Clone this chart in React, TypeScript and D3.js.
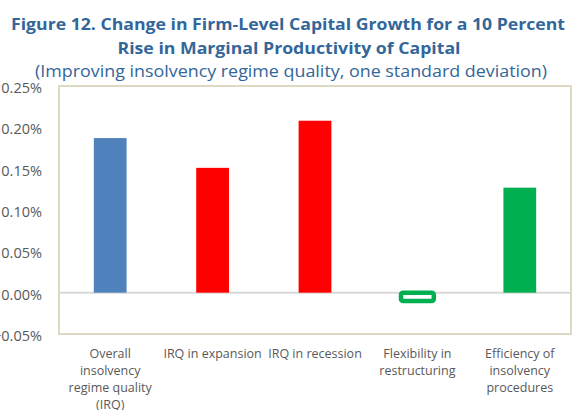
import React, { useEffect, useRef } from "react";
import * as d3 from "d3";

// Figure 12 data (percent)
const categories = [
  ["Overall", "insolvency", "regime quality", "(IRQ)"],
  ["IRQ in expansion"],
  ["IRQ in recession"],
  ["Flexibility in", "restructuring"],
  ["Efficiency of", "insolvency", "procedures"],
];
const values = [0.187, 0.151, 0.208, -0.01, 0.127];
const barColors = ["#4f81bd", "#ff0000", "#ff0000", "#00b050", "#00b050"];
const yTicks = [-0.05, 0, 0.05, 0.1, 0.15, 0.2, 0.25];

const titleLines = [
  "Figure 12. Change in Firm-Level Capital Growth for a 10 Percent",
  "Rise in Marginal Productivity of Capital",
];
const subtitle = "(Improving insolvency regime quality, one standard deviation)";

function App() {
  const ref = useRef<SVGSVGElement>(null);

  useEffect(() => {
    const svg = d3.select(ref.current);
    svg.selectAll("*").remove();

    const font = "'Open Sans', 'Noto Sans', sans-serif";
    const titleColor = "#336699";
    const labelColor = "#595959";

    // titles
    svg.append("text")
      .attr("x", 288).attr("y", 30)
      .attr("text-anchor", "middle")
      .attr("font-family", font).attr("font-weight", "bold")
      .attr("font-size", 16.5).attr("fill", titleColor)
      .attr("textLength", 554).attr("lengthAdjust", "spacingAndGlyphs")
      .text(titleLines[0]);
    svg.append("text")
      .attr("x", 289).attr("y", 54)
      .attr("text-anchor", "middle")
      .attr("font-family", font).attr("font-weight", "bold")
      .attr("font-size", 16.5).attr("fill", titleColor)
      .attr("textLength", 343).attr("lengthAdjust", "spacingAndGlyphs")
      .text(titleLines[1]);
    svg.append("text")
      .attr("x", 291).attr("y", 77)
      .attr("text-anchor", "middle")
      .attr("font-family", font)
      .attr("font-size", 17).attr("fill", titleColor)
      .attr("textLength", 512).attr("lengthAdjust", "spacingAndGlyphs")
      .text(subtitle);

    // plot area
    const left = 59, right = 571, top = 86, bottom = 334;

    const x = d3.scaleBand<number>()
      .domain(d3.range(values.length))
      .range([left, right])
      .paddingInner(0.68)
      .paddingOuter(0.34);

    const y = d3.scaleLinear()
      .domain([-0.05, 0.25])
      .range([bottom, top]);

    // y tick labels (the minus of the last one runs off the left edge, as in the original)
    svg.append("g")
      .selectAll("text")
      .data(yTicks)
      .join("text")
        .attr("x", 42)
        .attr("y", d => y(d) + 2)
        .attr("dy", "0.35em")
        .attr("text-anchor", "end")
        .attr("font-family", font)
        .attr("font-size", 14.5)
        .attr("fill", labelColor)
        .text(d => d3.format(".2f")(d) + "%");

    // zero line
    svg.append("line")
      .attr("x1", left).attr("x2", right)
      .attr("y1", y(0)).attr("y2", y(0))
      .attr("stroke", "#d9d9d9").attr("stroke-width", 2);

    // bars
    svg.append("g")
      .selectAll("rect")
      .data(values)
      .join("rect")
        .attr("x", (d, i) => x(i)!)
        .attr("width", x.bandwidth())
        .attr("y", d => y(Math.max(0, d)))
        .attr("height", d => Math.abs(y(d) - y(0)))
        .attr("rx", d => d < 0 ? 2 : 0)
        .attr("fill", (d, i) => d < 0 ? "#ffffff" : barColors[i])
        .attr("stroke", (d, i) => d < 0 ? barColors[i] : "none")
        .attr("stroke-width", 4.5);

    // frame around the plot
    svg.append("rect")
      .attr("x", left).attr("y", top)
      .attr("width", right - left).attr("height", bottom - top)
      .attr("fill", "none")
      .attr("stroke", "#ddd9c3").attr("stroke-width", 2);

    // category labels, wrapped like the original
    const cat = svg.append("g")
      .selectAll("text")
      .data(categories)
      .join("text")
        .attr("x", (d, i) => x(i)! + x.bandwidth() / 2)
        .attr("y", 358)
        .attr("text-anchor", "middle")
        .attr("font-family", font)
        .attr("font-size", 12.5)
        .attr("fill", labelColor);
    cat.selectAll("tspan")
      .data(d => d)
      .join("tspan")
        .attr("x", function () { return (this.parentNode as SVGTextElement).getAttribute("x"); })
        .attr("dy", (d, i) => i === 0 ? 0 : 17)
        .text(d => d);
  }, []);

  return (
    <div>
      <style>{"body{margin:0}"}</style>
      <svg ref={ref} width={572} height={410} style={{ display: "block", background: "#fff" }} />
    </div>
  );
}

export default App;
